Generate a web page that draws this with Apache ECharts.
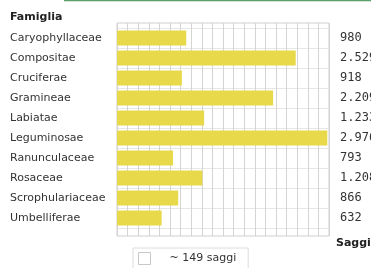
<!DOCTYPE html>
<html>
<head>
<meta charset="utf-8">
<script src="https://cdn.jsdelivr.net/npm/echarts@6/dist/echarts.min.js"></script>
<style>
  html, body { margin: 0; padding: 0; background: #fff; }
  #chart { width: 371px; height: 268px; }
</style>
</head>
<body>
<div id="chart"></div>
<script>
// famiglie botaniche e numero di saggi
const famiglie = ['Caryophyllaceae', 'Compositae', 'Cruciferae', 'Gramineae', 'Labiatae',
  'Leguminosae', 'Ranunculaceae', 'Rosaceae', 'Scrophulariaceae', 'Umbelliferae'];
const saggi = [980, 2529, 918, 2209, 1233, 2976, 793, 1208, 866, 632];
const nomeSerie = '~ 149 saggi';

// 2529 -> "2.529"
function fmt(v) {
  return String(v).replace(/\B(?=(\d{3})+(?!\d))/g, '.');
}

let chart = echarts.init(document.getElementById('chart'));
let option = {
  animation: false,
  grid: [
    // sfondo con griglia verticale
    { left: 117, right: 42, top: 23, bottom: 32, show: true, borderColor: '#cfcfcf', borderWidth: 1, outerBoundsMode: 'none' },
    // barre
    { left: 117, right: 42, top: 28, bottom: 40, outerBoundsMode: 'none' }
  ],
  xAxis: [
    {
      gridIndex: 0, type: 'value', min: 0, max: 3000, interval: 150,
      axisLine: { show: false }, axisTick: { show: false }, axisLabel: { show: false },
      splitLine: { lineStyle: { color: '#d4d4d4', width: 1 } }
    },
    {
      gridIndex: 1, type: 'value', min: 0, max: 3000, interval: 150, show: false
    }
  ],
  yAxis: [
    { gridIndex: 0, type: 'value', show: false, splitLine: { show: false } },
    {
      gridIndex: 1, type: 'category', data: famiglie, inverse: true,
      axisLine: { show: false }, axisTick: { show: false },
      axisLabel: {
        align: 'left', margin: 107, color: '#333',
        fontFamily: 'DejaVu Sans', fontSize: 11
      },
      splitLine: { show: true, interval: 0, lineStyle: { color: '#e6e6e6', width: 1 } }
    },
    {
      gridIndex: 1, type: 'category', data: famiglie, inverse: true, position: 'right',
      axisLine: { show: false }, axisTick: { show: false }, splitLine: { show: false },
      axisLabel: {
        align: 'left', margin: 11, color: '#333',
        fontFamily: 'DejaVu Sans Mono', fontSize: 12,
        formatter: (v, i) => fmt(saggi[i])
      }
    }
  ],
  legend: {
    left: 133, top: 248,
    data: [nomeSerie],
    icon: 'rect', itemWidth: 12, itemHeight: 12,
    itemStyle: { color: '#fff', borderColor: '#c8c8c8', borderWidth: 1 },
    borderColor: '#dcdcdc', borderWidth: 1,
    padding: [4, 12, 12, 5],
    textStyle: { color: '#333', fontFamily: 'DejaVu Sans', fontSize: 11, padding: [0, 0, 0, 14] }
  },
  graphic: [
    { type: 'line', shape: { x1: 64, y1: 0.5, x2: 371, y2: 0.5 }, style: { stroke: '#5a9e68', lineWidth: 1.5 } },
    { type: 'text', left: 10, top: 12, style: { text: 'Famiglia', font: 'bold 11px "DejaVu Sans"', fill: '#222' } },
    { type: 'text', left: 336, top: 238, style: { text: 'Saggi', font: 'bold 11px "DejaVu Sans"', fill: '#222' } }
  ],
  series: [
    {
      name: nomeSerie, type: 'bar', xAxisIndex: 1, yAxisIndex: 1,
      barWidth: 15, data: saggi,
      itemStyle: { color: '#e8d94a' }
    }
  ]
};
chart.setOption(option);
</script>
</body>
</html>
